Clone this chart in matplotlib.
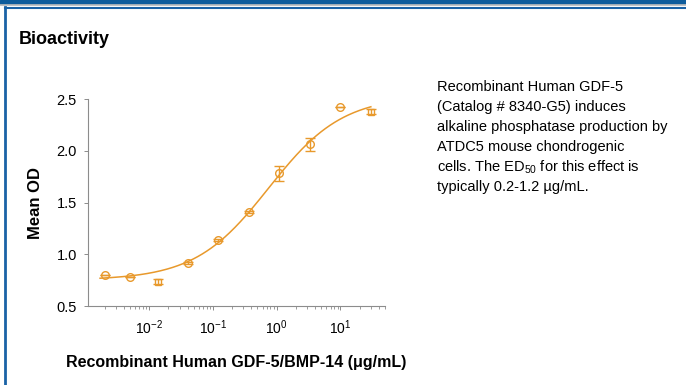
import numpy as np
import matplotlib.pyplot as plt
from matplotlib.lines import Line2D
from matplotlib.patches import Rectangle
from matplotlib.ticker import LogLocator, NullFormatter

plt.rcParams["mathtext.fontset"] = "custom"
plt.rcParams["mathtext.rm"] = "Liberation Sans"
plt.rcParams["mathtext.it"] = "Liberation Sans:italic"

# data
conc = [0.0020, 0.0050, 0.0139, 0.040, 0.122, 0.365, 1.10, 3.35, 10.0, 30.0]
mean_od = [0.80, 0.777, 0.735, 0.913, 1.138, 1.405, 1.782, 2.062, 2.426, 2.377]
od_err = [0.0, 0.0, 0.025, 0.012, 0.012, 0.010, 0.07, 0.065, 0.0, 0.025]
show_circle = [True, True, False, True, True, True, True, True, True, False]

# 4PL fit parameters estimated from the drawn curve
BOTTOM, TOP, EC50, HILL = 0.75, 2.53, 0.75, 0.75
curve_range = (0.0017, 30.0)

desc_lines = [
    "Recombinant Human GDF-5",
    "(Catalog # 8340-G5) induces",
    "alkaline phosphatase production by",
    "ATDC5 mouse chondrogenic",
    "cells. The ED$_{50}$ for this effect is",
    "typically 0.2-1.2 \u00b5g/mL.",
]

ORANGE = "#E8992C"
W, H = 686, 385

fig = plt.figure(figsize=(W / 100, H / 100), dpi=100)

# page frame
fig.patches.append(Rectangle((0, 1 - 3.5 / H), 1, 3.5 / H, transform=fig.transFigure,
                             color="#0E5C9C", zorder=0))
fig.add_artist(Line2D([0, 1], [1 - 4.5 / H] * 2, color="#BDBDBD", lw=1.2))
fig.add_artist(Line2D([4.5 / W, 1], [1 - 7.5 / H] * 2, color="#1A62A6", lw=1.5))
fig.add_artist(Line2D([5 / W] * 2, [0, 1 - 7 / H], color="#1A62A6", lw=2.0))

fig.text(19 / W, 1 - 40 / H, "Bioactivity", family="Liberation Sans", weight="bold",
         fontsize=13, va="center", ha="left")

ax = fig.add_axes([88 / W, 1 - 306 / H, 297 / W, 207 / H])

xs = np.logspace(np.log10(curve_range[0]), np.log10(curve_range[1]), 300)
ys = BOTTOM + (TOP - BOTTOM) / (1 + (EC50 / xs) ** HILL)
ax.plot(xs, ys, color=ORANGE, lw=1.1)

c = np.array(conc)
m = np.array(mean_od)
e = np.array(od_err)
mask = np.array(show_circle)
ax.errorbar(c, m, yerr=e, fmt="none", ecolor=ORANGE, elinewidth=1.0, capsize=3.5, capthick=1.0)
ax.plot(c[mask], m[mask], "o", ms=5.5, mfc="none", mec=ORANGE, mew=1.0)
ax.plot(c[~mask], m[~mask], "s", ms=4.5, mfc="none", mec=ORANGE, mew=1.0)

ax.set_xscale("log")
ax.set_xlim(1.1e-3, 50)
ax.set_ylim(0.5, 2.5)
ax.set_yticks([0.5, 1.0, 1.5, 2.0, 2.5])
ax.set_yticklabels(["0.5", "1.0", "1.5", "2.0", "2.5"])
ax.set_xticks([1e-2, 1e-1, 1e0, 1e1])
ax.set_xticklabels(["10$^{-2}$", "10$^{-1}$", "10$^{0}$", "10$^{1}$"])
ax.xaxis.set_minor_locator(LogLocator(base=10, subs=np.arange(2, 10), numticks=20))
ax.xaxis.set_minor_formatter(NullFormatter())

for s in ["top", "right"]:
    ax.spines[s].set_visible(False)
for s in ["left", "bottom"]:
    ax.spines[s].set_color("#8C8C8C")
    ax.spines[s].set_linewidth(0.8)

ax.tick_params(axis="y", which="major", length=3, width=0.7, color="#8C8C8C",
               labelsize=10.5, pad=5)
ax.tick_params(axis="x", which="major", length=3, width=0.7, color="#8C8C8C",
               labelsize=10, pad=6)
ax.tick_params(axis="x", which="minor", length=2, width=0.6, color="#8C8C8C")
for lab in ax.get_xticklabels() + ax.get_yticklabels():
    lab.set_family("Liberation Sans")

ax.set_ylabel("Mean OD", family="Liberation Sans", weight="bold", fontsize=12,
              labelpad=10)
ax.set_xlabel("Recombinant Human GDF-5/BMP-14 (\u03bcg/mL)", family="Liberation Sans",
              weight="bold", fontsize=11.5, labelpad=13)

y0 = 87
for i, line in enumerate(desc_lines):
    fig.text(437 / W, 1 - (y0 + i * 20) / H, line, family="Liberation Sans",
             fontsize=10.5, va="center", ha="left")

fig.savefig("out.png", dpi=100)
plt.close(fig)
